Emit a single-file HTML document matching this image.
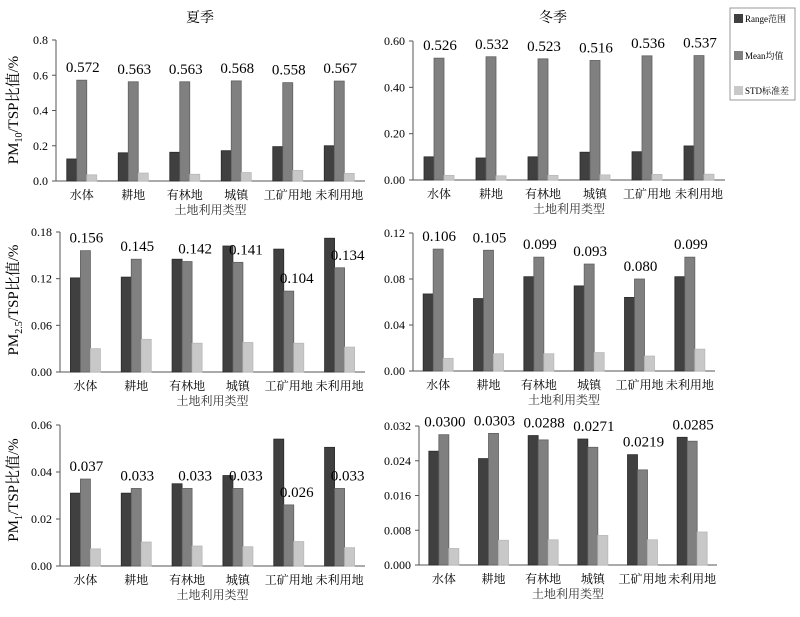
<!DOCTYPE html>
<html><head><meta charset="utf-8"><style>
body{margin:0;background:#fff;}
svg{display:block;font-family:"Liberation Serif","Noto Serif CJK SC",serif;}
</style></head><body>
<svg id="chart" width="800" height="617" viewBox="0 0 800 617" xmlns="http://www.w3.org/2000/svg">
<text x="200" y="22" font-size="14" text-anchor="middle">夏季</text>
<text x="553" y="22" font-size="14" text-anchor="middle">冬季</text>
<g><text transform="translate(18,110) rotate(-90)" font-size="15" text-anchor="middle">PM<tspan font-size="10" dy="4">10</tspan><tspan dy="-4">/TSP比值/%</tspan></text></g>
<g><text transform="translate(18,300) rotate(-90)" font-size="15" text-anchor="middle">PM<tspan font-size="10" dy="4">2.5</tspan><tspan dy="-4">/TSP比值/%</tspan></text></g>
<g><text transform="translate(18,490) rotate(-90)" font-size="15" text-anchor="middle">PM<tspan font-size="10" dy="4">1</tspan><tspan dy="-4">/TSP比值/%</tspan></text></g>
<g>
<rect x="730" y="8" width="65" height="92" fill="#fff" stroke="#999"/>
<rect x="734" y="14" width="9" height="9" fill="#404040"/><text x="745" y="22" font-size="9">Range范围</text>
<rect x="734" y="51" width="9" height="9" fill="#808080"/><text x="745" y="59" font-size="9">Mean均值</text>
<rect x="734" y="86" width="9" height="9" fill="#c8c8c8"/><text x="745" y="94" font-size="9">STD标准差</text>
</g>
</svg>
<script>
const categories=["水体","耕地","有林地","城镇","工矿用地","未利用地"];
const pm10SummerRange=[0.125,0.16,0.163,0.172,0.195,0.2];
const pm10SummerMean=[0.572,0.563,0.563,0.568,0.558,0.567];
const pm10SummerStd=[0.035,0.045,0.038,0.048,0.06,0.043];
const pm10SummerTicks=["0.0","0.2","0.4","0.6","0.8"];
const pm10WinterRange=[0.10,0.095,0.10,0.12,0.122,0.147];
const pm10WinterMean=[0.526,0.532,0.523,0.516,0.536,0.537];
const pm10WinterStd=[0.02,0.018,0.02,0.022,0.024,0.025];
const pm10WinterTicks=["0.00","0.20","0.40","0.60"];
const pm25SummerRange=[0.121,0.122,0.145,0.162,0.158,0.172];
const pm25SummerMean=[0.156,0.145,0.142,0.141,0.104,0.134];
const pm25SummerStd=[0.03,0.042,0.037,0.038,0.037,0.032];
const pm25SummerTicks=["0.00","0.06","0.12","0.18"];
const pm25WinterRange=[0.067,0.063,0.082,0.074,0.064,0.082];
const pm25WinterMean=[0.106,0.105,0.099,0.093,0.080,0.099];
const pm25WinterStd=[0.011,0.015,0.015,0.016,0.013,0.019];
const pm25WinterTicks=["0.00","0.04","0.08","0.12"];
const pm1SummerRange=[0.031,0.031,0.035,0.0385,0.054,0.0505];
const pm1SummerMean=[0.037,0.033,0.033,0.033,0.026,0.033];
const pm1SummerStd=[0.0073,0.0102,0.0085,0.0082,0.0104,0.0078];
const pm1SummerTicks=["0.00","0.02","0.04","0.06"];
const pm1WinterRange=[0.0262,0.0245,0.0298,0.0290,0.0254,0.0294];
const pm1WinterMean=[0.0300,0.0303,0.0288,0.0271,0.0219,0.0285];
const pm1WinterStd=[0.0038,0.0057,0.0058,0.0068,0.0058,0.0076];
const pm1WinterTicks=["0.000","0.008","0.016","0.024","0.032"];
const pm1WinterLabels=["0.0300","0.0303","0.0288","0.0271","0.0219","0.0285"];

const svg=document.getElementById('chart');
const NS='http://www.w3.org/2000/svg';
function mk(tag,attrs,parent){const e=document.createElementNS(NS,tag);for(const k in attrs)e.setAttribute(k,attrs[k]);parent.appendChild(e);return e;}
function panel(name,x0,x1,yTop,yBase,ticks,range,mean,std,labels,digits){
  const g=mk('g',{},svg);
  
  
  const maxV=parseFloat(ticks[ticks.length-1]);
  const y=v=>yBase-(v/maxV)*(yBase-yTop);
  const cw=(x1-x0)/categories.length;
  const ax=mk('path',{d:`M${x0},${yTop} V${yBase} H${x1}`,stroke:'#555',fill:'none','stroke-width':1},g);
  
  
  ticks.forEach(t=>{const v=parseFloat(t);const ty=y(v);
    mk('line',{x1:x0-4,x2:x0,y1:ty,y2:ty,stroke:'#555'},g);
    const tx=mk('text',{x:x0-8,y:ty+4,'font-size':12,'text-anchor':'end'},g);tx.textContent=t;
    
    
  });
  const series=[[range,'#404040','#2a2a2a','bar-range'],[mean,'#808080','#606060','bar-mean'],[std,'#c8c8c8','#b8b8b8','bar-std']];
  categories.forEach((c,i)=>{
    const cx=x0+cw*(i+0.5);
    series.forEach((s,j)=>{
      const v=s[0][i];const bx=cx-15+j*10;
      const r=mk('rect',{x:bx,y:y(v),width:10,height:yBase-y(v),fill:s[1],stroke:s[2],'stroke-width':0.8},g);
      
      
    });
    const shift=range[i]>mean[i]*0.97?(digits>3?0:7):0;
    const lt=mk('text',{x:cx+1+shift,y:y(Math.max(mean[i],digits>3?range[i]:mean[i]))-8,'font-size':15,'text-anchor':'middle'},g);
    lt.textContent=labels?labels[i]:mean[i].toFixed(digits);
    
    
    const ct=mk('text',{x:cx,y:yBase+18,'font-size':12,'text-anchor':'middle'},g);
    ct.textContent=c;
    
    
  });
  const xt=mk('text',{x:(x0+x1)/2,y:yBase+33,'font-size':12,'text-anchor':'middle',fill:'#333'},g);
  xt.textContent='土地利用类型';
  
  
}
panel('pm10-summer-panel',56,365,40,181,pm10SummerTicks,pm10SummerRange,pm10SummerMean,pm10SummerStd,null,3);
panel('pm10-winter-panel',413,725,41,180,pm10WinterTicks,pm10WinterRange,pm10WinterMean,pm10WinterStd,null,3);
panel('pm25-summer-panel',60,365,232,372,pm25SummerTicks,pm25SummerRange,pm25SummerMean,pm25SummerStd,null,3);
panel('pm25-winter-panel',413,715,233,371,pm25WinterTicks,pm25WinterRange,pm25WinterMean,pm25WinterStd,null,3);
panel('pm1-summer-panel',60,365,425,566,pm1SummerTicks,pm1SummerRange,pm1SummerMean,pm1SummerStd,null,3);
panel('pm1-winter-panel',419,717,426,565,pm1WinterTicks,pm1WinterRange,pm1WinterMean,pm1WinterStd,pm1WinterLabels,4);
</script>
</body></html>
